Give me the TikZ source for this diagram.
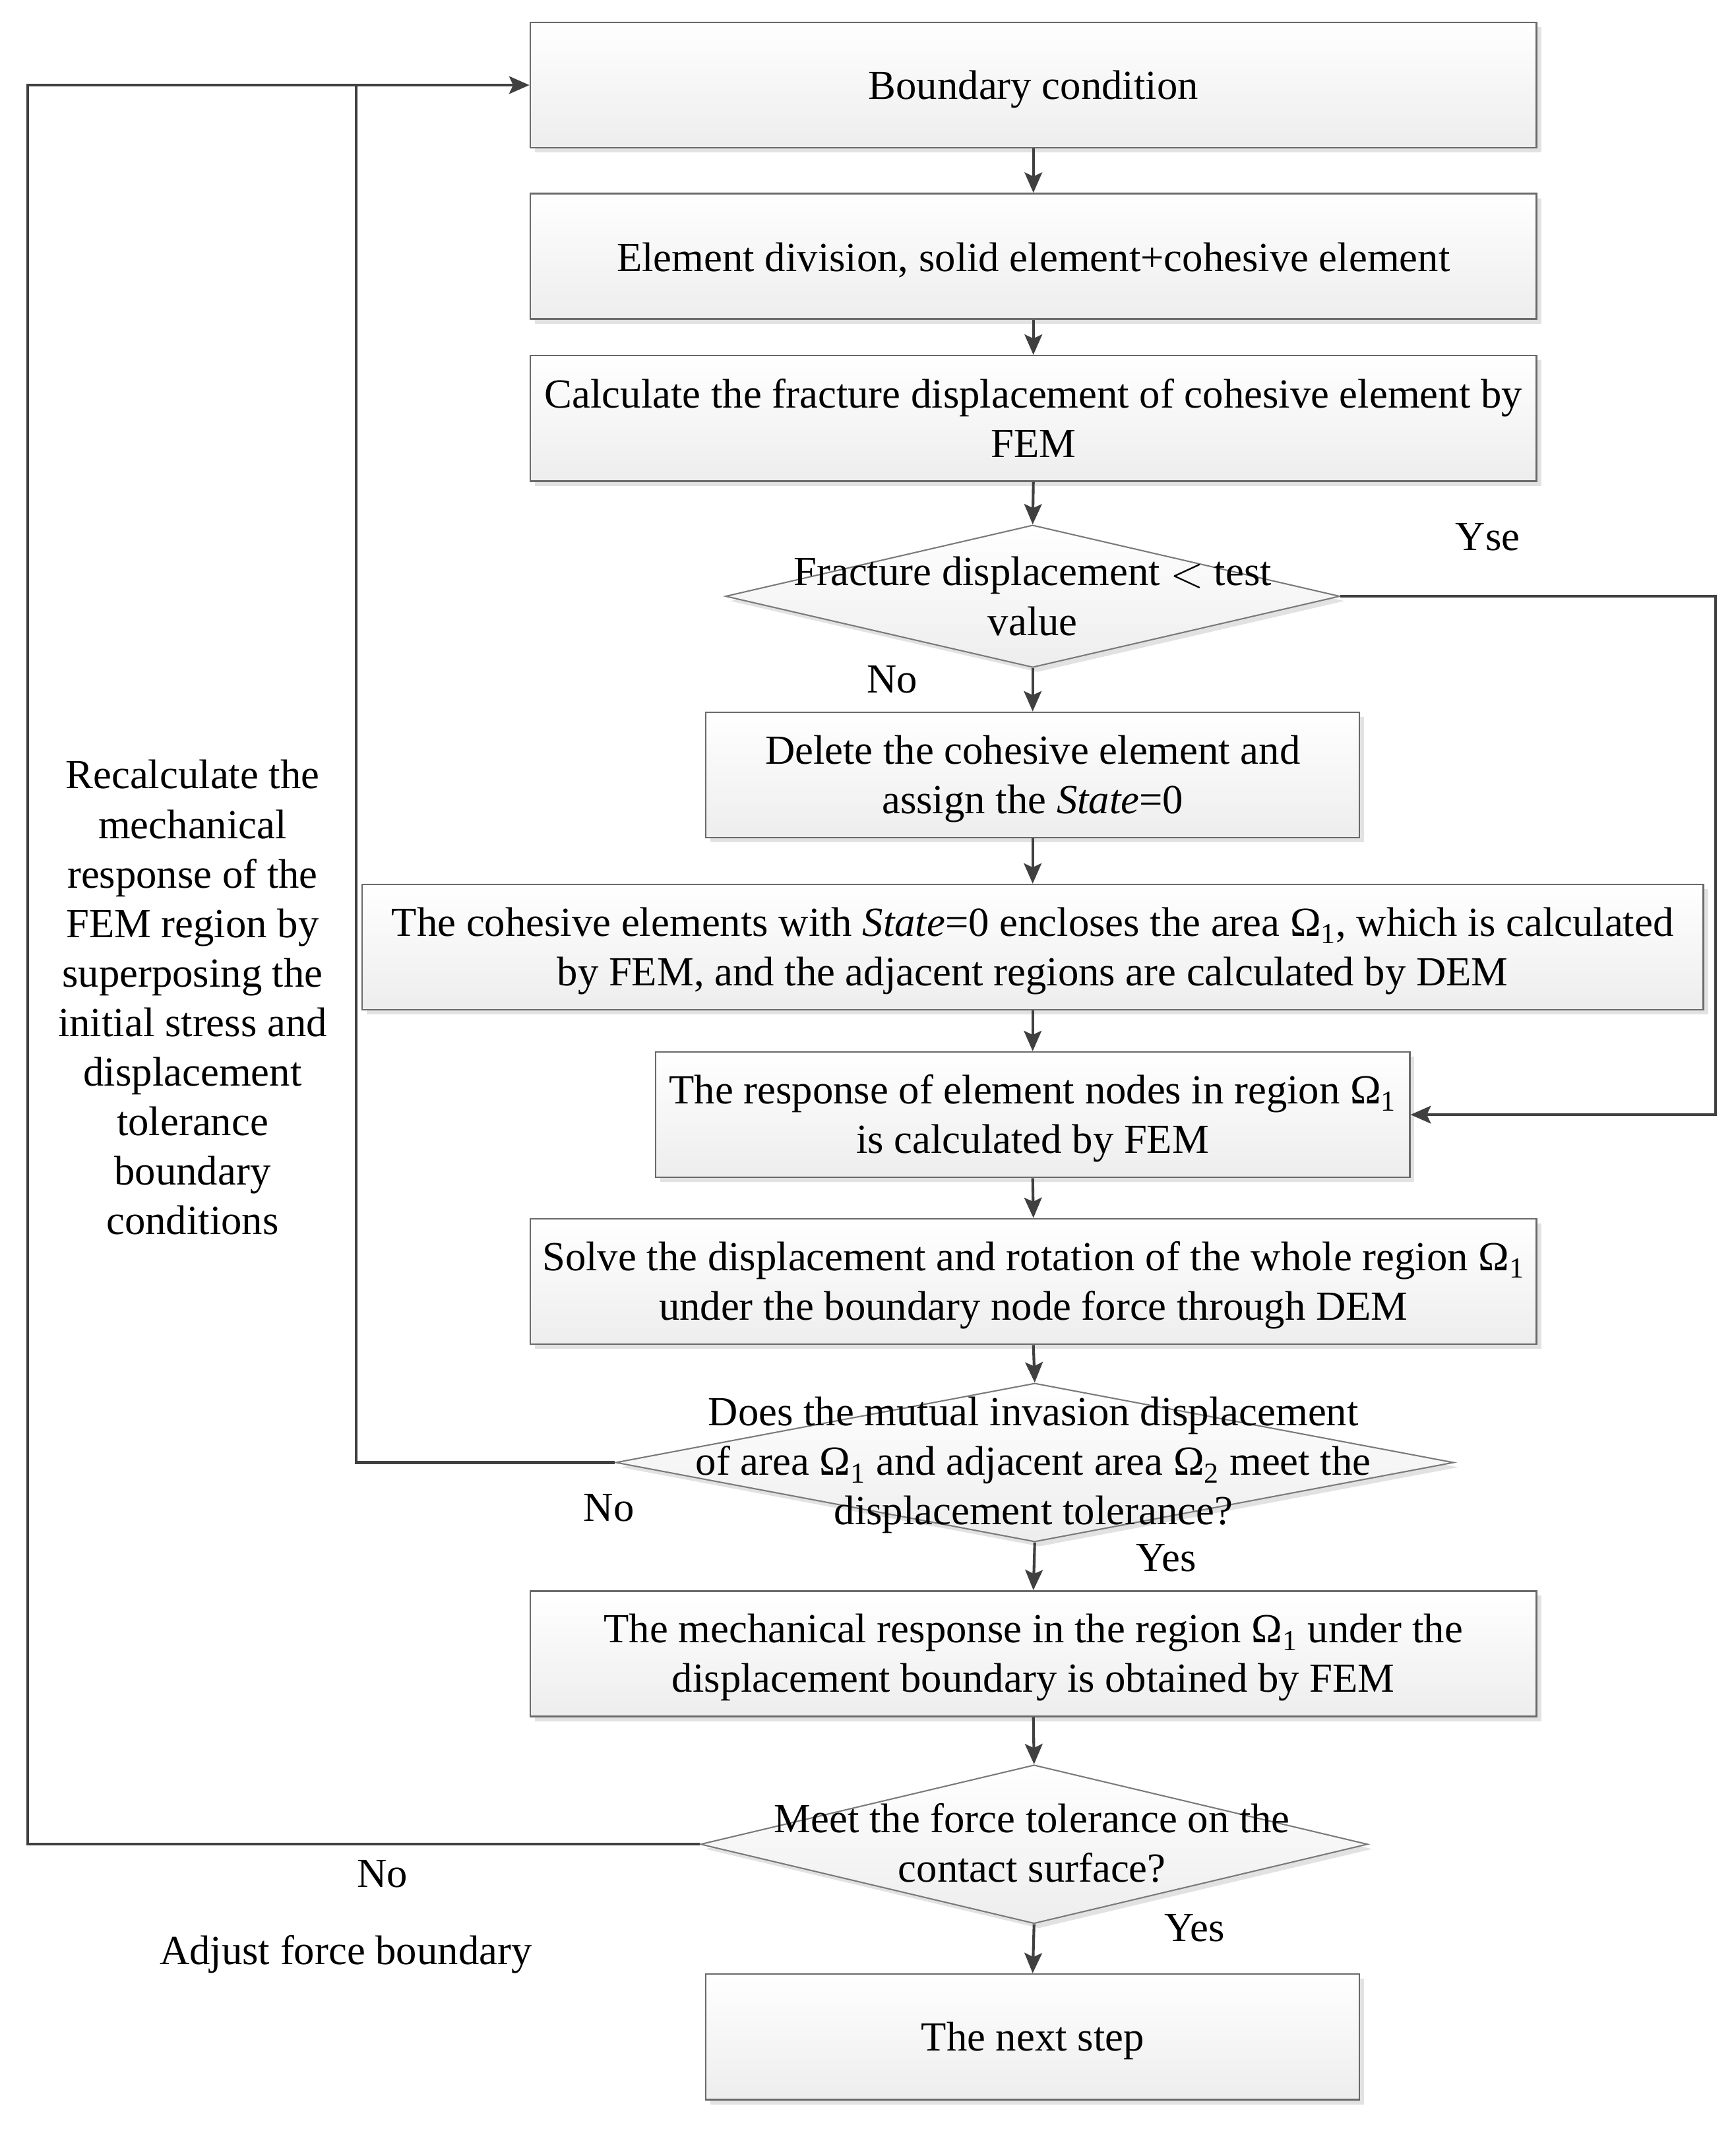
\documentclass[tikz,border=0pt]{standalone}
\usepackage{fontspec}
\setmainfont{Liberation Serif}
\usetikzlibrary{shapes.geometric,shadows,arrows.meta}
\definecolor{conncol}{HTML}{404040}
\definecolor{bordercol}{HTML}{6A6A6A}
\definecolor{shadowcol}{HTML}{E2E2E2}
\newcommand{\firststrut}{\rule{0pt}{27pt}}
\newcommand{\biglt}{\raisebox{-1pt}{\scalebox{1.3}{$<$}}}
\begin{document}
\begin{tikzpicture}[x=1pt,y=-1pt,
  font=\fontsize{30.5}{36.5}\selectfont,
  procbox/.style={draw=bordercol, line width=1.2pt, rectangle, minimum height=92.5pt,
     align=center, inner sep=0pt, top color=white, bottom color=black!7,
     drop shadow={shadow xshift=3.5pt, shadow yshift=-3.5pt, fill=shadowcol, opacity=1}},
  decbox/.style={draw=bordercol!90, line width=1pt, diamond, inner sep=0pt, aspect=1,
     top color=white, bottom color=black!7,
     drop shadow={shadow xshift=3.5pt, shadow yshift=-3.5pt, fill=shadowcol, opacity=1}},
  dectext/.style={align=center, inner sep=0pt},
  conn/.style={draw=conncol, line width=2pt},
  arr/.style={conn, -{Stealth[length=15pt, width=13pt, inset=3pt]}},
  lbl/.style={inner sep=0pt, anchor=center}
]
\useasboundingbox (0,0) rectangle (1280,1570);

% boxes
\node[procbox, minimum width=742pt] (b1) at (762,62.75) {\firststrut Boundary condition};
\node[procbox, minimum width=742pt] (b2) at (762,189) {\firststrut Element division, solid element+cohesive element};
\node[procbox, minimum width=742pt] (b3) at (762,308.5) {Calculate the fracture displacement of cohesive element by\\FEM};
\node[decbox, minimum width=453pt, minimum height=105pt] (d1) at (761.5,439.7) {};
\node[dectext] (t1) at (d1.center) {Fracture displacement \biglt{} test\\value};
\node[procbox, minimum width=482pt] (b4) at (761.5,571.5) {\firststrut Delete the cohesive element and\\assign the \textit{State}=0};
\node[procbox, minimum width=989pt] (b5) at (761.5,698.5) {\firststrut The cohesive elements with \textit{State}=0 encloses the area Ω\textsubscript{1}, which is calculated\\by FEM, and the adjacent regions are calculated by DEM};
\node[procbox, minimum width=556pt] (b6) at (761.5,822) {\firststrut The response of element nodes in region Ω\textsubscript{1}\\is calculated by FEM};
\node[procbox, minimum width=742pt] (b7) at (762,945) {\firststrut Solve the displacement and rotation of the whole region Ω\textsubscript{1}\\under the boundary node force through DEM};
\node[decbox, minimum width=618pt, minimum height=117pt] (d2) at (763,1078.5) {};
\node[dectext] (t2) at (762,1080.5) {Does the mutual invasion displacement\\of area Ω\textsubscript{1} and adjacent area Ω\textsubscript{2} meet the\\displacement tolerance?};
\node[procbox, minimum width=742pt] (b8) at (762,1219.5) {\firststrut The mechanical response in the region Ω\textsubscript{1} under the\\displacement boundary is obtained by FEM};
\node[decbox, minimum width=492pt, minimum height=117pt] (d3) at (762.5,1360) {};
\node[dectext] (t3) at (761,1359) {Meet the force tolerance on the\\contact surface?};
\node[procbox, minimum width=482pt] (b9) at (761.5,1502) {\firststrut The next step};

% labels
\node[lbl] (yse) at (1097,396) {Yse};
\node[lbl] (no1) at (658,501) {No};
\node[lbl] (no2) at (449,1112) {No};
\node[lbl] (yes2) at (860,1149) {Yes};
\node[lbl] (no3) at (282,1382) {No};
\node[lbl] (adj) at (255,1441) {Adjust force boundary};
\node[lbl] (yes3) at (881,1422) {Yes};
\node[lbl, align=center] (recalc) at (142,735.5) {Recalculate the\\mechanical\\response of the\\FEM region by\\superposing the\\initial stress and\\displacement\\tolerance\\boundary\\conditions};

% vertical flow
\draw[arr] (b1.south) -- (b2.north);
\draw[arr] (b2.south) -- (b3.north);
\draw[arr] (b3.south) -- (d1.north);
\draw[arr] (d1.south) -- (b4.north);
\draw[arr] (b4.south) -- (b5.north);
\draw[arr] (b5.south) -- (b6.north);
\draw[arr] (b6.south) -- (b7.north);
\draw[arr] (b7.south) -- (d2.north);
\draw[arr] (d2.south) -- (b8.north);
\draw[arr] (b8.south) -- (d3.north);
\draw[arr] (d3.south) -- (b9.north);

% loops
\coordinate (R1) at (1265,439.7);
\draw[arr] (d1.east) -- (R1) |- (b6.east);
\coordinate (L2) at (262.5,62.75);
\draw[conn] (d2.west) -| (L2);
\coordinate (L1) at (20.5,62.75);
\draw[arr] (d3.west) -| (L1) -- (b1.west);
\end{tikzpicture}
\end{document}
